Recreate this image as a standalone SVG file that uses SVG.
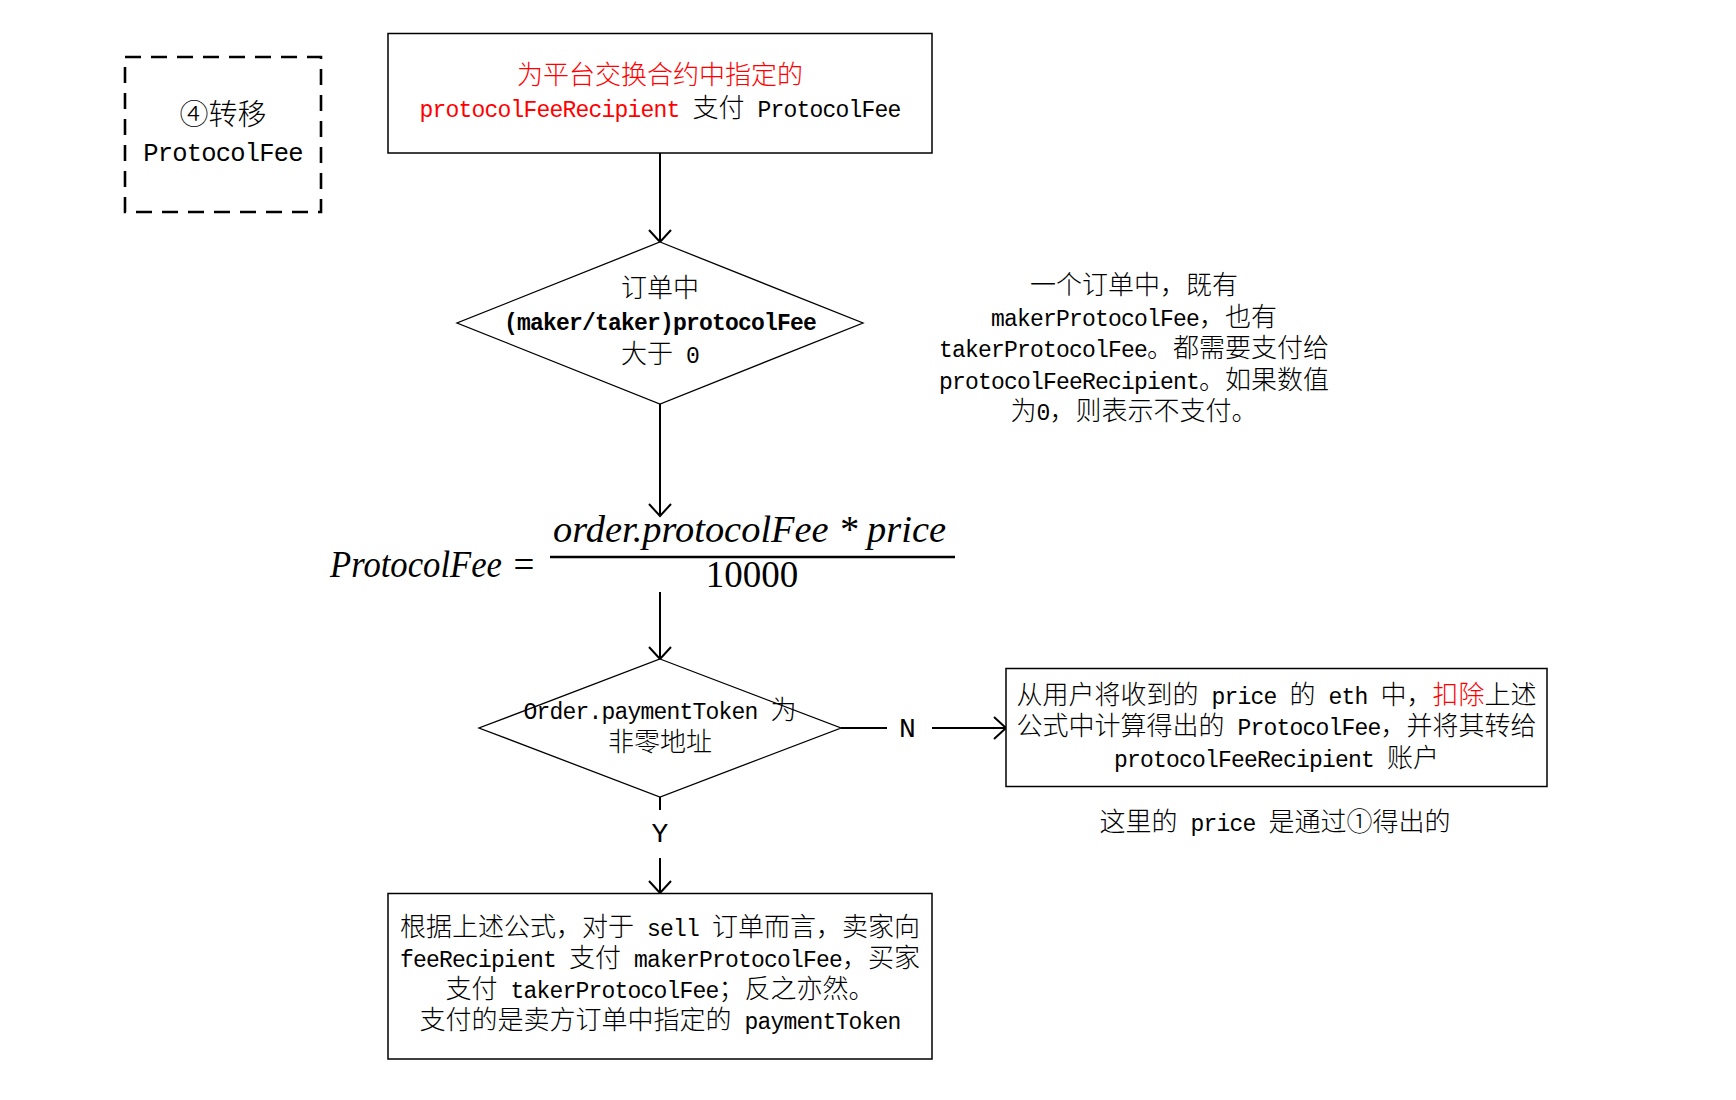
<svg xmlns="http://www.w3.org/2000/svg" width="1736" height="1100" viewBox="0 0 1736 1100">
<defs>
<style>
.bg{fill:#ffffff}
.box{fill:#ffffff;stroke:#000000;stroke-width:1.5}
.dash{fill:#ffffff;stroke:#000000;stroke-width:2.6;stroke-dasharray:16 10}
.dia{fill:#ffffff;stroke:#000000;stroke-width:1.3}
.t{font-family:"Noto Sans CJK SC","Liberation Sans",sans-serif;font-size:26px;font-weight:300;fill:#000000;text-anchor:middle}
.t29{font-size:29px}
.a{font-family:"Liberation Mono","Noto Sans CJK SC",monospace;font-size:23px;letter-spacing:-0.8px;font-weight:normal}
.a29{font-size:25.5px;letter-spacing:-0.8px}
.b{font-weight:bold}
.red{fill:#ff0000}
.lbl{font-family:"Liberation Mono",monospace;font-size:28px;fill:#000000;text-anchor:middle}
.m{font-family:"Liberation Serif",serif;font-size:37px;fill:#000000}
.mi{font-style:italic}
.ln{fill:none;stroke:#000000;stroke-width:2}
.arr{fill:none;stroke:#000000;stroke-width:2;marker-end:url(#ah)}
</style>
<marker id="ah" markerUnits="userSpaceOnUse" viewBox="0 0 16 24" markerWidth="16" markerHeight="24" refX="14" refY="12" orient="auto">
<path d="M2,1 L14,12 L2,23" fill="none" stroke="#000000" stroke-width="2"/>
</marker>
</defs>
<rect class="bg" x="0" y="0" width="1736" height="1100"/>

<g id="connectors">
<line class="arr" x1="660" y1="153" x2="660" y2="242"/>
<line class="arr" x1="660" y1="404" x2="660" y2="516"/>
<line class="arr" x1="660" y1="592" x2="660" y2="659"/>
<line class="ln" x1="841" y1="728" x2="887" y2="728"/>
<line class="arr" x1="932" y1="728" x2="1006" y2="728"/>
<text class="lbl" x="907.5" y="737">N</text>
<line class="ln" x1="660" y1="797" x2="660" y2="810"/>
<line class="arr" x1="660" y1="858" x2="660" y2="893"/>
<text class="lbl" x="660" y="842">Y</text>
</g>

<g id="step-label">
<rect class="dash" x="125" y="57" width="196" height="155"/>
<text class="t t29"><tspan x="223" y="125">④转移</tspan><tspan x="223" y="161" class="a a29">ProtocolFee</tspan></text>
</g>

<g id="pay-box">
<rect class="box" x="388" y="33.5" width="544" height="119.5"/>
<text class="t"><tspan x="660" y="84" class="red">为平台交换合约中指定的</tspan><tspan x="660" y="117"><tspan class="a red">protocolFeeRecipient </tspan>支付<tspan class="a"> ProtocolFee</tspan></tspan></text>
</g>

<g id="fee-check">
<polygon class="dia" points="660,242 863,323 660,404 457,323"/>
<text class="t"><tspan x="660" y="297">订单中</tspan><tspan x="660" y="330" class="a b">(maker/taker)protocolFee</tspan><tspan x="660" y="363">大于<tspan class="a"> 0</tspan></tspan></text>
</g>

<g id="side-note">
<text class="t"><tspan x="1134" y="294">一个订单中，既有</tspan><tspan x="1134" y="325.5"><tspan class="a">makerProtocolFee</tspan>，也有</tspan><tspan x="1134" y="357"><tspan class="a">takerProtocolFee</tspan>。都需要支付给</tspan><tspan x="1134" y="388.5"><tspan class="a">protocolFeeRecipient</tspan>。如果数值</tspan><tspan x="1134" y="420">为<tspan class="a">0</tspan>，则表示不支付。</tspan></text>
</g>

<g id="formula">
<text class="m mi" x="330" y="577" textLength="172" lengthAdjust="spacingAndGlyphs">ProtocolFee</text>
<text class="m" x="524" y="577" text-anchor="middle" font-size="40">=</text>
<line x1="550" y1="557" x2="955" y2="557" stroke="#000000" stroke-width="2.5"/>
<text class="m mi" x="553" y="542" textLength="393" lengthAdjust="spacingAndGlyphs">order.protocolFee * price</text>
<text class="m" x="752" y="587" text-anchor="middle" font-size="36">10000</text>
</g>

<g id="token-check">
<polygon class="dia" points="660,659 841,728 660,797 479,728"/>
<text class="t"><tspan x="660" y="719"><tspan class="a">Order.paymentToken </tspan>为</tspan><tspan x="660" y="751">非零地址</tspan></text>
</g>

<g id="eth-box">
<rect class="box" x="1006" y="668.5" width="541" height="118"/>
<text class="t"><tspan x="1276.5" y="703.5">从用户将收到的<tspan class="a"> price </tspan>的<tspan class="a"> eth </tspan>中，<tspan class="red">扣除</tspan>上述</tspan><tspan x="1276.5" y="735">公式中计算得出的<tspan class="a"> ProtocolFee</tspan>，并将其转给</tspan><tspan x="1276.5" y="766.5"><tspan class="a">protocolFeeRecipient </tspan>账户</tspan></text>
</g>

<g id="price-note">
<text class="t" x="1275" y="831">这里的<tspan class="a"> price </tspan>是通过①得出的</text>
</g>

<g id="token-box">
<rect class="box" x="388" y="893.5" width="544" height="165.5"/>
<text class="t"><tspan x="660" y="936">根据上述公式，对于<tspan class="a"> sell </tspan>订单而言，卖家向</tspan><tspan x="660" y="967"><tspan class="a">feeRecipient </tspan>支付<tspan class="a"> makerProtocolFee</tspan>，买家</tspan><tspan x="660" y="998">支付<tspan class="a"> takerProtocolFee</tspan>；反之亦然。</tspan><tspan x="660" y="1029">支付的是卖方订单中指定的<tspan class="a"> paymentToken</tspan></tspan></text>
</g>
</svg>
